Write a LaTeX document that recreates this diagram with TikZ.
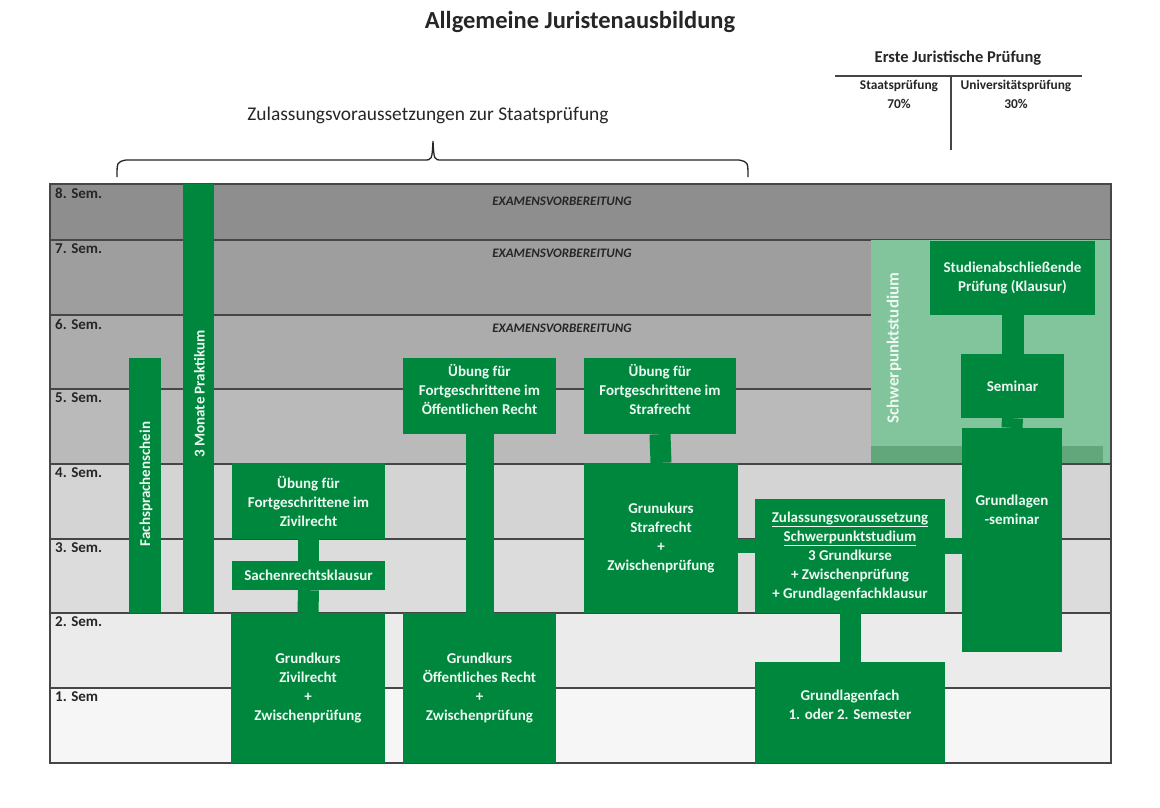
\documentclass[tikz,border=0pt]{standalone}
\usepackage{fontspec}
\setmainfont{Carlito}
\definecolor{grn}{RGB}{0,135,62}
\definecolor{lgrn}{RGB}{130,196,156}
\definecolor{mgrn}{RGB}{98,166,124}
\definecolor{gtxt}{RGB}{236,248,240}
\definecolor{r8}{RGB}{142,142,142}
\definecolor{r7}{RGB}{158,158,158}
\definecolor{r6}{RGB}{172,172,172}
\definecolor{r5}{RGB}{186,186,186}
\definecolor{r4}{RGB}{212,212,212}
\definecolor{r3}{RGB}{220,220,220}
\definecolor{r2}{RGB}{235,235,235}
\definecolor{r1}{RGB}{246,246,246}
\definecolor{lin}{RGB}{70,70,70}
\begin{document}
\begin{tikzpicture}[x=1pt,y=-1pt,
  gbox/.style={fill=grn, text=gtxt, font=\bfseries\fontsize{15}{19}\selectfont, align=center, inner sep=0pt, draw=none},
  vbox/.style={gbox, rotate=90},
  conn/.style={draw=grn, line width=21pt},
  semlbl/.style={anchor=west, inner sep=0pt, text=black!85, font=\bfseries\fontsize{15}{17}\selectfont},
  exam/.style={inner sep=0pt, text=black!85, font=\bfseries\itshape\fontsize{13}{15}\selectfont},
  hdr/.style={inner sep=0pt, text=black!85, font=\bfseries\fontsize{13.4}{15}\selectfont},
  rowline/.style={draw=lin, line width=1.2pt}
]
\useasboundingbox (0,0) rectangle (1160,807);
\fill[white] (0,0) rectangle (1160,807);

% rows
\fill[r8] (50,184) rectangle (1111,240);
\fill[r7] (50,240) rectangle (1111,315);
\fill[r6] (50,315) rectangle (1111,389);
\fill[r5] (50,389) rectangle (1111,464);
\fill[r4] (50,464) rectangle (1111,539);
\fill[r3] (50,539) rectangle (1111,613);
\fill[r2] (50,613) rectangle (1111,688);
\fill[r1] (50,688) rectangle (1111,763);
\foreach \yy in {240,315,389,464,539,613,688}{\draw[rowline] (50,\yy) -- (1111,\yy);}
\draw[draw=lin, line width=1.3pt] (50,184) rectangle (1111,763);

% semester labels
\node[semlbl] (s8) at (55,193) {8. Sem.};
\node[semlbl] (s7) at (55,249) {7. Sem.};
\node[semlbl] (s6) at (55,324) {6. Sem.};
\node[semlbl] (s5) at (55,398) {5. Sem.};
\node[semlbl] (s4) at (55,473) {4. Sem.};
\node[semlbl] (s3) at (55,548) {3. Sem.};
\node[semlbl] (s2) at (55,622) {2. Sem.};
\node[semlbl] (s1) at (55,697) {1. Sem};

\node[exam] (ex8) at (562,201) {EXAMENSVORBEREITUNG};
\node[exam] (ex7) at (562,253) {EXAMENSVORBEREITUNG};
\node[exam] (ex6) at (562,328) {EXAMENSVORBEREITUNG};

% Schwerpunktstudium area
\node[fill=lgrn, inner sep=0pt, minimum width=239pt, minimum height=223pt] (spz) at (990.5,351.5) {};
\fill[mgrn] (871,446) rectangle (1103,463);
\node[inner sep=0pt, rotate=90, text=gtxt, font=\bfseries\fontsize{17}{20}\selectfont] (spzt) at (894,348) {Schwerpunktstudium};

% vertical bars
\node[gbox, minimum width=32pt, minimum height=255pt] (fach) at (145,485.5) {};
\node[vbox] (facht) at (146,484) {Fachsprachenschein};
\node[gbox, minimum width=31pt, minimum height=429pt] (prak) at (198.5,398.5) {};
\node[vbox] (prakt) at (199.5,394) {3 Monate Praktikum};

% Zivilrecht column
\node[gbox, minimum width=153pt, minimum height=76pt] (uez) at (308.5,501) {Übung für\\Fortgeschrittene im\\Zivilrecht};
\node[gbox, minimum width=153pt, minimum height=29pt] (sach) at (308.5,575.5) {Sachenrechtsklausur};
\node[gbox, minimum width=154pt, minimum height=150pt] (gkz) at (308,688) {Grundkurs\\Zivilrecht\\+\\Zwischenprüfung};

% Oeffentliches Recht column
\node[gbox, minimum width=153pt, minimum height=76pt] (ueo) at (479.5,396) {Übung für\\Fortgeschrittene im\\Öffentlichen Recht\\[-6pt]};
\node[gbox, minimum width=153pt, minimum height=150pt] (gko) at (479.5,688) {Grundkurs\\Öffentliches Recht\\+\\Zwischenprüfung};

% Strafrecht column
\node[gbox, minimum width=152pt, minimum height=76pt] (ues) at (660,396) {Übung für\\Fortgeschrittene im\\Strafrecht\\[-6pt]};
\node[gbox, minimum width=154pt, minimum height=150pt] (gks) at (661,538) {Grunukurs\\Strafrecht\\+\\Zwischenprüfung};

% Zulassung / Grundlagenfach
\node[gbox, minimum width=190pt, minimum height=114pt] (zul) at (850,556) {\underline{Zulassungsvoraussetzung}\\\underline{Schwerpunktstudium}\\3 Grundkurse\\+ Zwischenprüfung\\+ Grundlagenfachklausur};
\node[gbox, minimum width=190pt, minimum height=101pt] (glf) at (850,712.5) {Grundlagenfach\\1. oder 2. Semester\\[-4pt]};

% Schwerpunkt column
\node[gbox, minimum width=165pt, minimum height=74pt] (sab) at (1012.5,278) {Studienabschließende\\Prüfung (Klausur)};
\node[gbox, minimum width=103pt, minimum height=64pt] (sem) at (1012.5,386) {Seminar};
\node[gbox, minimum width=100pt, minimum height=224pt] (gls) at (1012,540) {};
\node[gbox, fill=none, anchor=north] (glst) at (1012,495) {Grundlagen\\-seminar};

% connectors
\draw[conn] (uez.south) -- (sach.north);
\draw[conn] (sach.south) -- (gkz.north);
\draw[conn, line width=28pt] (ueo.south) -- (gko.north);
\draw[conn] (ues.south) -- (gks.north);
\draw[conn, line width=14pt] (gks.east |- 0,546) -- (zul.west |- 0,546);
\draw[conn, line width=16pt] (zul.east |- 0,546) -- (gls.west |- 0,546);
\draw[conn] (zul.south) -- (glf.north);
\draw[conn, line width=22pt] (sab.south) -- (sem.north);
\draw[conn] (sem.south) -- (gls.north);

% header
\node[inner sep=0pt, text=black!85, font=\bfseries\fontsize{24.5}{28}\selectfont] (title) at (580,22) {Allgemeine Juristenausbildung};
\node[inner sep=0pt, text=black!85, font=\bfseries\fontsize{16.5}{19}\selectfont] (ejp) at (958,58) {Erste Juristische Prüfung};
\coordinate (hl) at (835,76);
\coordinate (hr) at (1082,76);
\coordinate (vt) at (951,76);
\coordinate (vb) at (951,150);
\draw[draw=lin, line width=1.1pt] (hl) -- (hr);
\draw[draw=lin, line width=1.1pt] (vt) -- (vb);
\node[hdr] (stp) at (899,86) {Staatsprüfung};
\node[hdr] (stpp) at (899,104) {70\%};
\node[hdr] (unp) at (1016,86) {Universitätsprüfung};
\node[hdr] (unpp) at (1016,104) {30\%};

\node[inner sep=0pt, text=black!85, font=\fontsize{19.4}{23}\selectfont] (zv) at (428,115) {Zulassungsvoraussetzungen zur Staatsprüfung};
\draw[draw=black!85, line width=1.3pt] (117,177) .. controls (117,162) .. (126,160) -- (424,160) .. controls (432,160) .. (433,141) .. controls (434,160) .. (442,160) -- (739,160) .. controls (748,162) .. (748,177);
\end{tikzpicture}
\end{document}
